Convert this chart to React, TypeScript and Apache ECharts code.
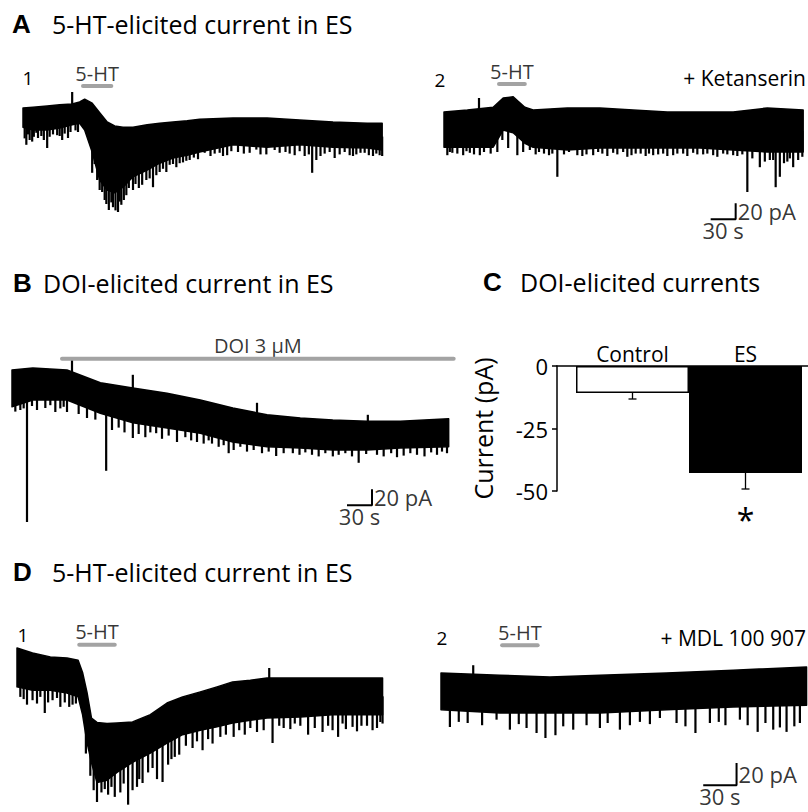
import React, { useEffect, useRef } from "react";
import * as echarts from "echarts";

const FONT = "'Open Sans', 'Noto Sans', sans-serif";

// ---------- Panel A1 (5-HT, ES) : time (s), current (pA) ----------
const A1_T = [0, 12, 29, 44, 59, 68, 74, 83, 92, 101, 110, 120, 132, 149, 164, 180, 197, 212, 252, 293, 332, 372, 413, 431];
const A1_HI = [0, 1, 2.5, 4, 5, 7.5, 11, 6, -6, -17.5, -22.5, -24, -24, -21, -19, -17.5, -16, -14, -12.5, -12.5, -15, -17.5, -19, -19];
const A1_LO = [-24, -27.5, -27.5, -25, -21, -19, -27.5, -55, -90, -102.5, -106, -99, -86, -77.5, -69, -62.5, -59, -55, -46, -49, -46, -49, -50, -52.5];
const A1_SPIKE_T = [2, 4, 6, 8, 11, 13, 16, 18, 22, 25, 29, 32, 36, 41, 44, 47, 50, 54, 57, 63, 66, 83, 86, 89, 92, 95, 98, 100, 103, 106, 108, 111, 114, 116, 118, 121, 124, 127, 132, 135, 139, 143, 148, 152, 156, 160, 164, 168, 172, 176, 180, 184, 188, 192, 196, 200, 205, 210, 218, 225, 230, 236, 240, 245, 250, 258, 265, 272, 280, 285, 292, 302, 308, 315, 320, 326, 332, 338, 343, 347, 352, 357, 362, 368, 374, 380, 386, 392, 396, 400, 405, 410, 415, 420, 424, 428, 431, 59];
const A1_SPIKE_V = [-38, -46, -33, -40, -42, -36, -31, -37.5, -35, -40, -50, -36, -33, -34, -35, -40, -32, -37.5, -30, -28, -30, -81, -70, -90, -102.5, -105, -115, -120, -127.5, -118, -124, -128, -130, -117, -121, -115, -109, -100, -102.5, -95, -100, -96, -90, -88, -99, -84, -80, -76, -80, -71, -70, -74, -69, -68, -66, -65, -62, -64, -56, -60, -57, -56, -60, -59, -54, -55, -57, -56, -52, -58, -58, -52.5, -56, -55, -57, -59, -54, -60, -58, -81, -65, -60, -57, -55, -62.5, -58, -55, -59, -60, -58, -56, -56, -59, -60, -57, -59, -60, 20];
const A1_STIM = [72, 106];
const A1_STIM_Y = 27.5;

// ---------- Panel A2 (5-HT + Ketanserin) ----------
const A2_T = [0, 28, 59, 71, 83, 97, 107, 148, 187, 227, 268, 307, 347, 388, 431];
const A2_HI = [0, 2.5, 6, 17.5, 19, 6, 2.5, 5, 5, 2.5, 0, 0, 0, 5, 2.5];
const A2_LO = [-44, -44, -44, -22.5, -26, -39, -44, -47.5, -45, -45, -45, -45, -47.5, -50, -50];
const A2_SPIKE_T = [4, 7, 10, 16, 23, 27, 31, 36, 43, 48, 56, 64, 70, 77, 88, 95, 103, 110, 114, 120, 126, 130, 136, 144, 150, 160, 166, 171, 179, 185, 190, 196, 203, 208, 215, 220, 225, 230, 236, 242, 246, 251, 257, 263, 268, 275, 280, 287, 292, 299, 304, 311, 316, 323, 328, 335, 340, 347, 352, 358, 364, 370, 379, 385, 391, 395, 398, 403, 408, 412, 415, 419, 425, 430, 42];
const A2_SPIKE_V = [-54, -50, -51, -52, -54, -49, -51, -53, -54, -50, -52, -50, -35, -45, -54, -50, -47.5, -53, -50, -52, -54, -52, -81, -53, -50, -54, -55, -53, -54, -50, -52, -55, -51, -53, -50, -56, -54, -52, -52, -55, -52, -54, -53, -52, -55, -54, -52, -52, -55, -51, -53, -53, -52, -54, -56, -52, -53, -54, -55, -53, -100, -58, -69, -62, -60, -60, -94, -81, -64, -62, -58, -69, -60, -56, 17.5];
const A2_STIM = [66, 97];
const A2_STIM_Y = 35;
const A2_SCALE_T = [320, 350];
const A2_SCALE_V = [-134, -114];

// ---------- Panel B (DOI 3 µM) ----------
const B_T = [0, 25, 66, 106, 145, 186, 226, 265, 306, 346, 385, 426, 466, 524];
const B_HI = [0, 2.5, 0, -16, -22.5, -29, -37.5, -47.5, -56, -60, -62.5, -64, -64, -61];
const B_LO = [-46, -37.5, -37.5, -54, -66, -72.5, -79, -90, -96, -97.5, -100, -100, -97.5, -96];
const B_SPIKE_T = [4, 10, 14, 18, 24, 30, 40, 46, 52, 58, 62, 66, 80, 90, 100, 113, 120, 128, 135, 145, 152, 160, 166, 173, 180, 188, 198, 208, 215, 222, 230, 236, 240, 248, 254, 260, 266, 274, 282, 290, 300, 308, 317, 326, 337, 345, 352, 360, 368, 376, 385, 392, 400, 408, 416, 425, 438, 446, 455, 462, 470, 478, 486, 495, 503, 510, 516, 522, 72, 145, 294, 427];
const B_SPIKE_V = [-52, -50, -48, -190, -45, -50, -47.5, -44, -52.5, -48, -46, -52.5, -55, -60, -62, -126, -75, -72, -78, -85, -80, -84, -78, -79, -86, -82, -90, -84, -88, -90, -92, -88, -92, -96, -94, -104, -100, -96, -102, -100, -104, -102, -107.5, -104, -104, -106, -103, -106, -108, -104, -108, -106, -104, -108, -116, -105, -106, -108, -104, -109, -107, -104, -106, -108, -103, -106, -102, -104, 12.5, -6, -41, -56];
const B_STIM = [60, 530];
const B_STIM_Y = 14;
const B_SCALE_T = [402, 432];
const B_SCALE_V = [-169, -149];

// ---------- Panel C (bar chart) ----------
const C_CATS = ["Control", "ES"];
const C_MEAN = [-10.8, -42.8];
const C_SEM = [2.4, 6.4];
const C_SIG = ["", "*"];
const C_TICKS = [-50, 0, 25];

// ---------- Panel D1 (5-HT, ES) ----------
const D1_T = [0, 14, 30, 45, 55, 59, 63, 67, 72, 81, 90, 104, 120, 135, 149, 165, 180, 194, 210, 225, 255, 284, 315, 329];
const D1_HI = [0, -4.5, -8, -9, -11, -22, -40, -63, -67, -68, -67.5, -66.5, -60, -49.5, -44, -39.5, -35, -30.5, -29, -27, -27, -27, -27, -27];
const D1_LO = [-35, -38, -38, -40.5, -44, -60, -85, -103, -121, -119, -112, -103, -94.5, -85.5, -78, -74, -71, -67.5, -65, -63, -62, -60, -60, -60];
const D1_SPIKE_T = [3, 6, 9, 14, 18, 21, 25, 28, 32, 36, 39, 43, 47, 50, 53, 62, 66, 69, 72, 76, 79, 82, 85, 88, 93, 96, 100, 104, 108, 110, 113, 118, 122, 126, 131, 136, 139, 142, 146, 152, 158, 162, 167, 172, 176, 183, 188, 195, 200, 205, 210, 216, 222, 230, 236, 240, 246, 250, 255, 262, 268, 275, 280, 284, 289, 293, 296, 302, 306, 310, 315, 320, 324, 327, 329, 227];
const D1_SPIKE_V = [-44, -46, -51, -47, -50, -44, -58.5, -49, -47, -45, -53, -49, -53, -51, -50, -95, -115, -128, -138.6, -130, -127, -132, -125, -134, -130, -122, -141, -128, -125, -118, -121.5, -112, -108, -118, -120.6, -105, -100, -98, -96, -88, -90, -84, -92, -82, -86, -80, -78, -80, -74, -78, -72, -75.6, -74, -85.5, -70, -72, -73, -68, -70, -78, -72, -75.6, -70, -74, -80, -68, -73, -71, -75, -70, -70, -74, -72, -66.6, -68, -18];
const D1_STIM = [56, 88];
const D1_STIM_Y = 3;

// ---------- Panel D2 (5-HT + MDL 100 907) ----------
const D2_T = [0, 53, 98, 143, 203, 263, 329];
const D2_HI = [0, -2, -3.5, -2, 0, 2.5, 5.5];
const D2_LO = [-33, -36, -36, -36, -33, -30.5, -29];
const D2_SPIKE_T = [8, 16, 24, 37, 50, 62, 70, 77, 86, 94, 103, 110, 119, 131, 143, 150, 161, 170, 179, 188, 197, 212, 220, 229, 242, 250, 256, 269, 276, 285, 292, 299, 305, 311, 318, 323, 29];
const D2_SPIKE_V = [-48.6, -44, -45, -47, -42, -51, -46, -49.5, -54, -58.5, -56, -48, -51, -47, -49.5, -45, -51, -47, -44, -46, -40.5, -45, -48, -54, -45, -44, -47, -42, -47, -53, -45, -51, -49, -53, -48, -45, 7];
const D2_STIM = [55, 87];
const D2_STIM_Y = 25;
const D2_SCALE_T = [236, 266];
const D2_SCALE_V = [-101, -81];

function interp(ts: number[], vs: number[], t: number) {
  if (t <= ts[0]) return vs[0];
  for (let i = 1; i < ts.length; i++) {
    if (t <= ts[i]) {
      const f = (t - ts[i - 1]) / (ts[i] - ts[i - 1]);
      return vs[i - 1] + f * (vs[i] - vs[i - 1]);
    }
  }
  return vs[vs.length - 1];
}

function bandSeries(g: number, ts: number[], hi: number[], lo: number[]) {
  return {
    type: "custom",
    xAxisIndex: g,
    yAxisIndex: g,
    silent: true,
    data: ts.map((t, i) => [t, lo[i], hi[i]]),
    encode: { x: 0, y: [1, 2] },
    renderItem: (params: any, api: any) => {
      if (params.dataIndex !== 0) return null;
      const top = ts.map((t, i) => api.coord([t, hi[i]]));
      const bot = ts.map((t, i) => api.coord([t, lo[i]])).reverse();
      return {
        type: "polygon",
        shape: { points: top.concat(bot) },
        style: { fill: "#000", stroke: "#000", lineWidth: 1.5, lineJoin: "round" },
      };
    },
  };
}

function spikeSeries(g: number, ts: number[], hi: number[], lo: number[], st: number[], sv: number[]) {
  return {
    type: "custom",
    xAxisIndex: g,
    yAxisIndex: g,
    silent: true,
    data: st.map((t, i) => [t, sv[i]]),
    renderItem: (params: any, api: any) => {
      const t = api.value(0);
      const v = api.value(1);
      const mid = (interp(ts, hi, t) + interp(ts, lo, t)) / 2;
      const p1 = api.coord([t, mid]);
      const p2 = api.coord([t, v]);
      return {
        type: "line",
        shape: { x1: p1[0], y1: p1[1], x2: p2[0], y2: p2[1] },
        style: { stroke: "#000", lineWidth: 2.2 },
      };
    },
  };
}

function stimSeries(g: number, range: number[], y: number, label: string) {
  return [
    {
      type: "line",
      xAxisIndex: g,
      yAxisIndex: g,
      silent: true,
      symbol: "none",
      data: [[range[0], y], [range[1], y]],
      lineStyle: { color: "#a3a3a3", width: 4, cap: "round" },
    },
    {
      type: "scatter",
      xAxisIndex: g,
      yAxisIndex: g,
      silent: true,
      symbolSize: 0,
      data: [[(range[0] + range[1]) / 2, y]],
      label: {
        show: true,
        position: "top",
        distance: 3,
        formatter: label,
        color: "#000",
        fontSize: 20,
        fontFamily: FONT,
      },
    },
  ];
}

function scaleSeries(g: number, st: number[], sv: number[]) {
  return [
    {
      type: "line",
      xAxisIndex: g,
      yAxisIndex: g,
      silent: true,
      symbol: "none",
      data: [[st[0], sv[0]], [st[1], sv[0]], [st[1], sv[1]]],
      lineStyle: { color: "#000", width: 2 },
    },
    {
      type: "scatter",
      xAxisIndex: g,
      yAxisIndex: g,
      silent: true,
      symbolSize: 0,
      data: [
        { value: [st[1], (sv[0] + sv[1]) / 2], label: { position: "right", distance: 2, formatter: "20 pA" } },
        { value: [(st[0] + st[1]) / 2, sv[0]], label: { position: "bottom", distance: 0, formatter: "30 s" } },
      ],
      label: { show: true, color: "#000", fontSize: 22, fontFamily: FONT },
    },
  ];
}

function traceAxes(g: number, xmax: number, ymin: number, ymax: number) {
  return {
    x: { gridIndex: g, type: "value", min: 0, max: xmax, show: false },
    y: { gridIndex: g, type: "value", min: ymin, max: ymax, show: false },
  };
}

function txt(x: number, y: number, text: string, size: number, opts: any = {}) {
  return {
    type: "text",
    x,
    y,
    silent: true,
    style: {
      text,
      fill: "#000",
      fontSize: size,
      fontFamily: opts.family || FONT,
      fontWeight: opts.weight || "normal",
      textAlign: opts.align || "left",
      textVerticalAlign: "middle",
    },
  };
}

const BOLD = { weight: "bold", family: "'Liberation Sans', Arial, sans-serif" };

export default function App() {
  const ref = useRef<HTMLDivElement>(null);
  useEffect(() => {
    if (!ref.current) return;
    const chart = echarts.init(ref.current, undefined, { renderer: "svg" });
    const axA1 = traceAxes(0, 432, -140, 35);
    const axA2 = traceAxes(1, 432, -160, 40);
    const axB = traceAxes(2, 534, -200, 50);
    const axD1 = traceAxes(5, 333, -145, 45);
    const axD2 = traceAxes(6, 333, -125, 45);
    const option: any = {
      animation: false,
      backgroundColor: "#fff",
      grid: [
        { left: 23, top: 80, width: 360, height: 140, outerBoundsMode: "none" },
        { left: 444, top: 80, width: 360, height: 160, outerBoundsMode: "none" },
        { left: 12, top: 330, width: 445, height: 200, outerBoundsMode: "none" },
        { left: 576, top: 366, width: 226, height: 125, outerBoundsMode: "none" },
        { left: 557, top: 366, width: 251, height: 125, outerBoundsMode: "none" },
        { left: 17, top: 598, width: 370, height: 211.11, outerBoundsMode: "none" },
        { left: 441, top: 623, width: 370, height: 188.89, outerBoundsMode: "none" },
      ],
      xAxis: [
        axA1.x,
        axA2.x,
        axB.x,
        {
          gridIndex: 3,
          type: "category",
          data: C_CATS,
          position: "top",
          axisLine: { show: false },
          axisTick: { show: false },
          axisLabel: { color: "#000", fontSize: 21, fontFamily: FONT, margin: 2 },
          splitLine: { show: false },
        },
        {
          gridIndex: 4,
          type: "value",
          min: 0,
          max: 1,
          position: "top",
          axisLine: { show: true, onZero: false, lineStyle: { color: "#000", width: 1.5 } },
          axisTick: { show: false },
          axisLabel: { show: false },
          splitLine: { show: false },
        },
        axD1.x,
        axD2.x,
      ],
      yAxis: [
        axA1.y,
        axA2.y,
        axB.y,
        { gridIndex: 3, type: "value", min: C_TICKS[0], max: C_TICKS[1], show: false },
        {
          gridIndex: 4,
          type: "value",
          min: C_TICKS[0],
          max: C_TICKS[1],
          interval: C_TICKS[2],
          axisLine: { show: true, lineStyle: { color: "#000", width: 1.5 } },
          axisTick: { show: true, length: 5, lineStyle: { color: "#000", width: 1.5 } },
          axisLabel: { color: "#000", fontSize: 22, fontFamily: FONT, margin: 9 },
          splitLine: { show: false },
          name: "Current (pA)",
          nameLocation: "middle",
          nameGap: 62,
          nameTextStyle: { color: "#000", fontSize: 25, fontFamily: FONT },
        },
        axD1.y,
        axD2.y,
      ],
      series: [
        bandSeries(0, A1_T, A1_HI, A1_LO),
        spikeSeries(0, A1_T, A1_HI, A1_LO, A1_SPIKE_T, A1_SPIKE_V),
        ...stimSeries(0, A1_STIM, A1_STIM_Y, "5-HT"),
        bandSeries(1, A2_T, A2_HI, A2_LO),
        spikeSeries(1, A2_T, A2_HI, A2_LO, A2_SPIKE_T, A2_SPIKE_V),
        ...stimSeries(1, A2_STIM, A2_STIM_Y, "5-HT"),
        ...scaleSeries(1, A2_SCALE_T, A2_SCALE_V),
        bandSeries(2, B_T, B_HI, B_LO),
        spikeSeries(2, B_T, B_HI, B_LO, B_SPIKE_T, B_SPIKE_V),
        ...stimSeries(2, B_STIM, B_STIM_Y, "DOI 3 µM"),
        ...scaleSeries(2, B_SCALE_T, B_SCALE_V),
        {
          type: "bar",
          xAxisIndex: 3,
          yAxisIndex: 3,
          silent: true,
          barWidth: "100%",
          data: C_MEAN.map((v, i) => ({
            value: v,
            itemStyle:
              i === 0
                ? { color: "#fff", borderColor: "#000", borderWidth: 1.5 }
                : { color: "#000", borderColor: "#000", borderWidth: 1.5 },
          })),
        },
        {
          type: "custom",
          xAxisIndex: 3,
          yAxisIndex: 3,
          silent: true,
          data: C_MEAN.map((m, i) => [i, m, C_SEM[i]]),
          renderItem: (params: any, api: any) => {
            const i = api.value(0);
            const m = api.value(1);
            const e = api.value(2);
            const top = api.coord([i, m + e]);
            const bot = api.coord([i, m - e]);
            const st = { stroke: "#000", lineWidth: 1.3 };
            const children: any[] = [
              { type: "line", shape: { x1: top[0], y1: top[1], x2: bot[0], y2: bot[1] }, style: st },
              { type: "line", shape: { x1: top[0] - 4, y1: top[1], x2: top[0] + 4, y2: top[1] }, style: st },
              { type: "line", shape: { x1: bot[0] - 4, y1: bot[1], x2: bot[0] + 4, y2: bot[1] }, style: st },
            ];
            const sig = C_SIG[params.dataIndex];
            if (sig) {
              children.push({
                type: "text",
                x: bot[0],
                y: bot[1] + 30,
                style: {
                  text: sig,
                  fill: "#000",
                  fontSize: 32,
                  fontFamily: FONT,
                  textAlign: "center",
                  textVerticalAlign: "middle",
                },
              });
            }
            return { type: "group", children };
          },
        },
        bandSeries(5, D1_T, D1_HI, D1_LO),
        spikeSeries(5, D1_T, D1_HI, D1_LO, D1_SPIKE_T, D1_SPIKE_V),
        ...stimSeries(5, D1_STIM, D1_STIM_Y, "5-HT"),
        bandSeries(6, D2_T, D2_HI, D2_LO),
        spikeSeries(6, D2_T, D2_HI, D2_LO, D2_SPIKE_T, D2_SPIKE_V),
        ...stimSeries(6, D2_STIM, D2_STIM_Y, "5-HT"),
        ...scaleSeries(6, D2_SCALE_T, D2_SCALE_V),
      ],
      graphic: [
        txt(12, 24, "A", 26, BOLD),
        txt(52, 24, "5-HT-elicited current in ES", 25),
        txt(13, 283, "B", 26, BOLD),
        txt(43, 283, "DOI-elicited current in ES", 25),
        txt(483, 282, "C", 26, BOLD),
        txt(520, 282, "DOI-elicited currents", 25),
        txt(13, 572, "D", 26, BOLD),
        txt(52, 572, "5-HT-elicited current in ES", 25),
        txt(28, 78, "1", 19, { align: "center" }),
        txt(440, 80, "2", 19, { align: "center" }),
        txt(806, 78, "+ Ketanserin", 21, { align: "right" }),
        txt(23, 635, "1", 19, { align: "center" }),
        txt(442, 638, "2", 19, { align: "center" }),
        txt(806, 638, "+ MDL 100 907", 21, { align: "right" }),
      ],
    };
    chart.setOption(option);
    return () => chart.dispose();
  }, []);
  return (
    <div
      ref={ref}
      style={{ position: "fixed", left: 0, top: 0, width: 808, height: 812, background: "#fff" }}
    />
  );
}
